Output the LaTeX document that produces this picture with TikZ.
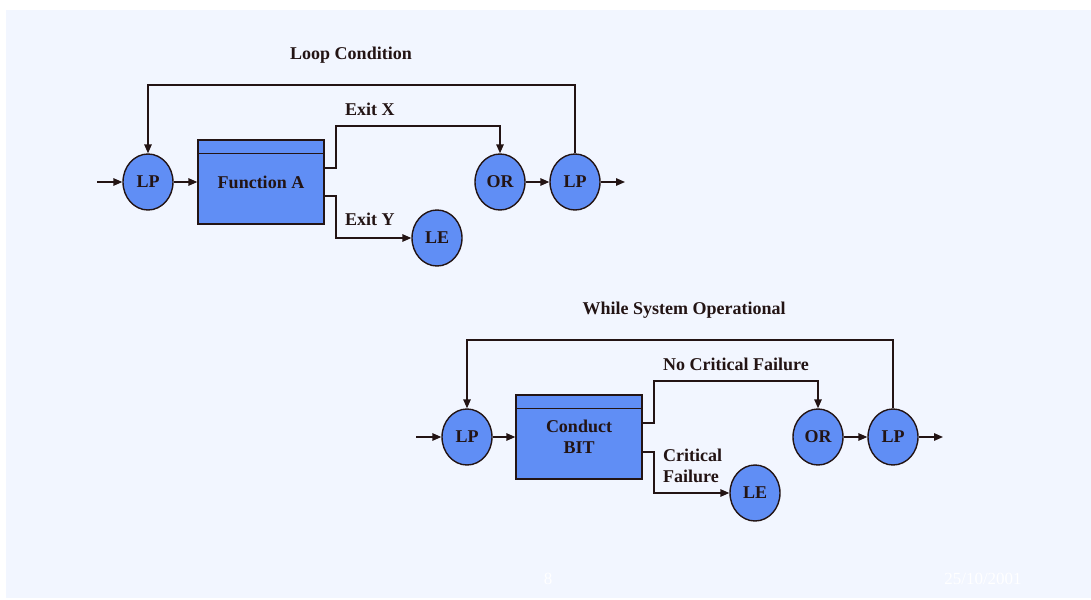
\documentclass[tikz,border=0pt]{standalone}
\usepackage{fontspec}
\setmainfont{Liberation Serif}
\usetikzlibrary{shapes.geometric,arrows.meta,calc}
\definecolor{panel}{RGB}{242,246,255}
\definecolor{nodefill}{RGB}{96,142,245}
\definecolor{ink}{RGB}{35,20,20}
\begin{document}
\begin{tikzpicture}[x=1pt,y=-1pt,
  oval/.style={ellipse,draw=ink,line width=1.4pt,fill=nodefill,minimum width=50pt,minimum height=56pt,inner sep=0pt,font=\fontsize{18}{19}\selectfont\bfseries,text=ink},
  funcbox/.style={rectangle,draw=ink,line width=1.4pt,fill=nodefill,minimum width=126pt,minimum height=84pt,inner sep=0pt,align=center,font=\fontsize{18}{21.5}\selectfont\bfseries,text=ink},
  lbl/.style={font=\fontsize{18}{21}\selectfont\bfseries,text=ink,inner sep=0pt,align=left},
  foot/.style={font=\fontsize{17}{20}\selectfont,text=white,inner sep=0pt},
  arr/.style={draw=ink,line width=1.4pt,-{Triangle[length=9pt,width=7.5pt]}},
  ln/.style={draw=ink,line width=1.4pt}]
\useasboundingbox (0,0) rectangle (1091,599);
\fill[white] (0,0) rectangle (1091,599);
\fill[panel] (6,10) rectangle (1091,598);

% ---------- top diagram ----------
\node[lbl] (cond1) at (351,55) {Loop Condition};
\node[oval] (lp1) at (148,182) {LP};
\node[funcbox] (fa) at (261,182) {Function A};
\draw[ln] ([yshift=-14pt]fa.north west) -- ([yshift=-14pt]fa.north east);
\node[oval] (or1) at (500,182) {OR};
\node[oval] (lp2) at (575,182) {LP};
\node[oval] (le1) at (437,238) {LE};
\coordinate (in1) at (97,182);
\coordinate (out1) at (625,182);
\coordinate (fx1) at (324,168);
\coordinate (fy1) at (324,196);
\coordinate (bx1) at (336,126);
\coordinate (by1) at (336,196);
\coordinate (t1) at (148,85);
\node[lbl,anchor=west] (exitx) at (345,109) {Exit X};
\node[lbl,anchor=west] (exity) at (345,219) {Exit Y};

\draw[arr] (in1) -- (lp1);
\draw[arr] (lp1) -- (fa);
\draw[arr] (fx1) -| (bx1) -| (or1);
\draw[arr] (fy1) -- (by1) |- (le1);
\draw[arr] (or1) -- (lp2);
\draw[arr] (lp2) -- (out1);
\draw[arr] (lp2) |- (t1) -- (lp1);

% ---------- bottom diagram ----------
\node[lbl] (cond2) at (684,310) {While System Operational};
\node[oval] (lp3) at (467,437) {LP};
\node[funcbox] (cb) at (579,437) {Conduct\\BIT};
\draw[ln] ([yshift=-14pt]cb.north west) -- ([yshift=-14pt]cb.north east);
\node[oval] (or2) at (818,437) {OR};
\node[oval] (lp4) at (893,437) {LP};
\node[oval] (le2) at (755,493) {LE};
\coordinate (in2) at (416,437);
\coordinate (out2) at (943,437);
\coordinate (fx2) at (642,423);
\coordinate (fy2) at (642,452);
\coordinate (bx2) at (654,381);
\coordinate (by2) at (654,452);
\coordinate (t2) at (467,340);
\node[lbl,anchor=west] (ncf) at (663,364) {No Critical Failure};
\node[lbl,anchor=west] (cf) at (663,466) {Critical\\Failure};

\draw[arr] (in2) -- (lp3);
\draw[arr] (lp3) -- (cb);
\draw[arr] (fx2) -| (bx2) -| (or2);
\draw[arr] (fy2) -- (by2) |- (le2);
\draw[arr] (or2) -- (lp4);
\draw[arr] (lp4) -- (out2);
\draw[arr] (lp4) |- (t2) -- (lp3);

% ---------- footer ----------
\node[foot] (pg) at (548,579) {8};
\node[foot] (dt) at (983,579) {25/10/2001};
\end{tikzpicture}
\end{document}
